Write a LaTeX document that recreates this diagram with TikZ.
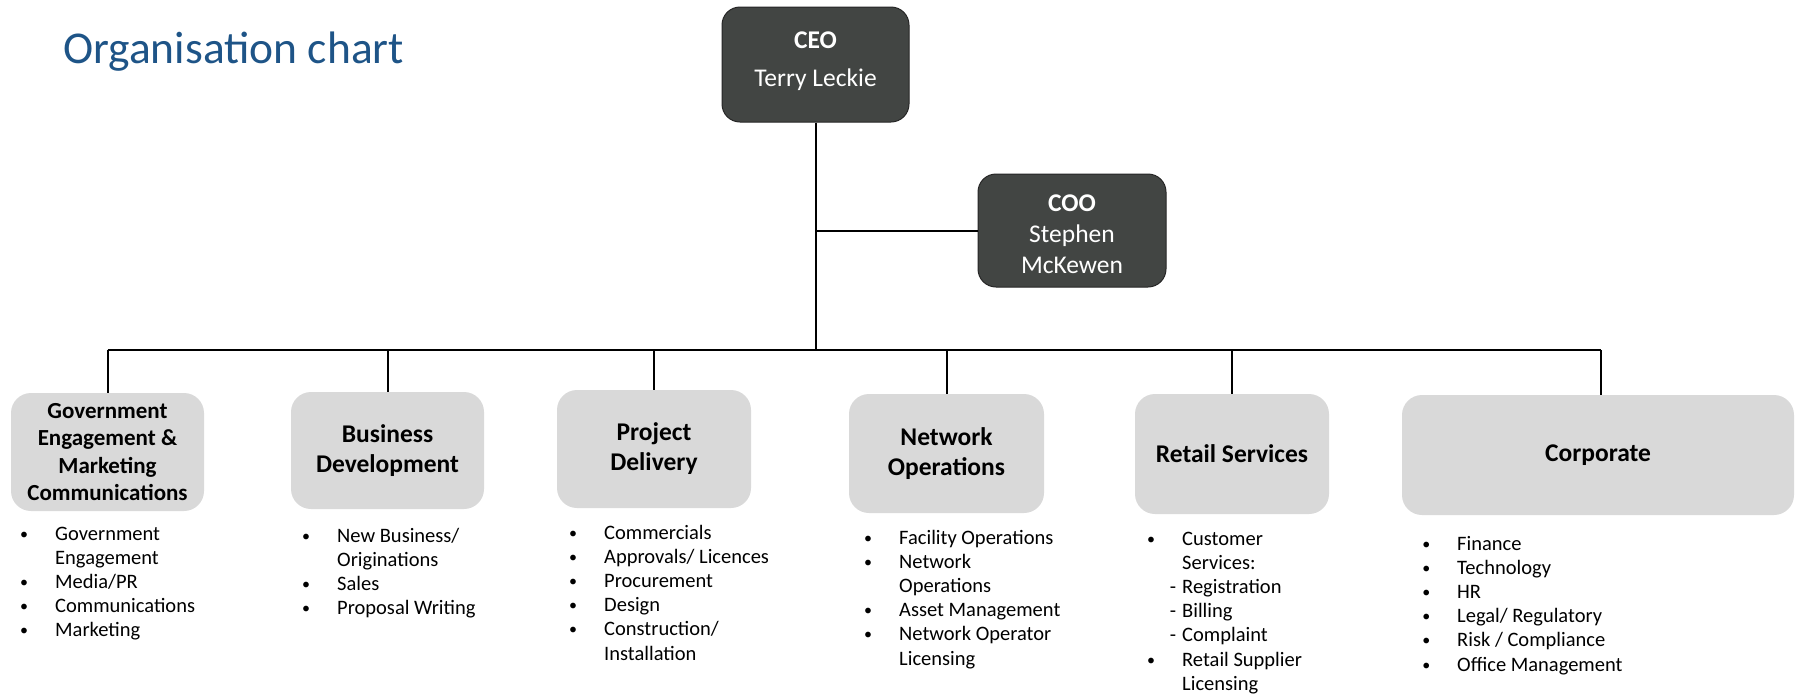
\documentclass[tikz,border=0pt]{standalone}
\usepackage{fontspec}
\setmainfont{Carlito}
\definecolor{boxdark}{RGB}{66,69,67}
\definecolor{boxlight}{RGB}{217,217,217}
\definecolor{titleblue}{RGB}{30,84,135}
\newcommand\itemlist[1]{\vtop{\baselineskip=24.2pt\lineskiplimit=-30pt\lineskip=0pt #1}}
\newcommand\bi[1]{\hbox{\llap{\raisebox{1pt}{\fontsize{16}{16}\selectfont •}\hspace{27pt}}#1}}
\newcommand\ci[1]{\hbox{#1}}
\newcommand\di[1]{\hbox{\llap{-\hspace{6pt}}#1}}
\begin{document}
\begin{tikzpicture}[x=1pt,y=-1pt,
  conn/.style={line width=2pt,black},
  dark/.style={rectangle,rounded corners=18pt,fill=boxdark,draw=black!85,line width=1pt,inner sep=0pt},
  darktext/.style={text=white,align=center,inner sep=0pt,font=\fontsize{25.5}{31}\selectfont},
  dept/.style={rectangle,rounded corners=20pt,fill=boxlight,align=center,inner sep=0pt,
    font=\fontsize{25.5}{30}\selectfont\bfseries},
  items/.style={anchor=base west,inner sep=0pt,font=\fontsize{20.5}{24.2}\selectfont}]
\useasboundingbox (0,0) rectangle (1796,697);

% title
\node[anchor=base west,inner sep=0pt,text=titleblue,font=\fontsize{45.5}{54}\selectfont] (title) at (63,63) {Organisation chart};

% top boxes
\node[dark,minimum width=187pt,minimum height=115pt] (ceo) at (815.5,64.5) {};
\node[darktext] (ceot) at ([yshift=3pt]ceo.center) {\textbf{CEO}\\[7pt]Terry Leckie};
\node[dark,minimum width=188pt,minimum height=113pt] (coo) at (1072,230.5) {};
\node[darktext] (coot) at ([yshift=-4pt]coo.center) {\textbf{COO}\\Stephen\\McKewen};

% departments
\node[dept,minimum width=193pt,minimum height=118pt,font=\fontsize{23}{27.5}\selectfont\bfseries] (gov) at (107.5,452) {Government\\Engagement \&\\Marketing\\Communications};
\node[dept,minimum width=193pt,minimum height=117pt] (bus) at (387.5,450.5) {Business\\Development};
\node[dept,minimum width=194pt,minimum height=118pt] (proj) at (654,449) {Project\\Delivery};
\node[dept,minimum width=195pt,minimum height=119pt] (net) at (946.5,453.5) {Network\\Operations};
\node[dept,minimum width=194pt,minimum height=120pt] (ret) at (1232,454) {Retail Services};
\node[dept,minimum width=392pt,minimum height=120pt] (corp) at (1598,455) {Corporate};

% connectors
\coordinate (barL) at (107.5,350);
\coordinate (barR) at (1601,350);
\draw[conn] (ceo.south) -- (ceo.south |- barL);
\draw[conn] (ceo.south |- coo.west) -- (coo.west);
\draw[conn] (barL) -- (barR);
\draw[conn] (gov.north |- barL) -- (gov.north);
\draw[conn] (bus.north |- barL) -- (bus.north);
\draw[conn] (proj.north |- barL) -- (proj.north);
\draw[conn] (net.north |- barL) -- (net.north);
\draw[conn] (ret.north |- barL) -- (ret.north);
\draw[conn] (barR) -- (barR |- corp.north);

% item lists
\node[items] (govl) at (55,540) {\itemlist{\bi{Government}\ci{Engagement}\bi{Media/PR}\bi{Communications}\bi{Marketing}}};
\node[items] (busl) at (337,542) {\itemlist{\bi{New Business/}\ci{Originations}\bi{Sales}\bi{Proposal Writing}}};
\node[items] (projl) at (604,539) {\itemlist{\bi{Commercials}\bi{Approvals/ Licences}\bi{Procurement}\bi{Design}\bi{Construction/}\ci{Installation}}};
\node[items] (netl) at (899,544) {\itemlist{\bi{Facility Operations}\bi{Network}\ci{Operations}\bi{Asset Management}\bi{Network Operator}\ci{Licensing}}};
\node[items] (retl) at (1182,545) {\itemlist{\bi{Customer}\ci{Services:}\di{Registration}\di{Billing}\di{Complaint}\bi{Retail Supplier}\ci{Licensing}}};
\node[items] (corpl) at (1457,550) {\itemlist{\bi{Finance}\bi{Technology}\bi{HR}\bi{Legal/ Regulatory}\bi{Risk / Compliance}\bi{Office Management}}};
\end{tikzpicture}
\end{document}
